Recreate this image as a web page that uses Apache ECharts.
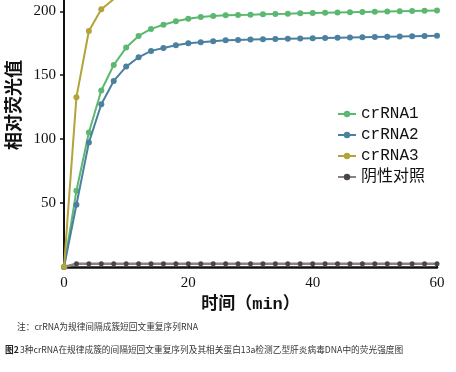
<!DOCTYPE html>
<html><head><meta charset="utf-8">
<script src="https://cdn.jsdelivr.net/npm/echarts@6/dist/echarts.min.js"></script>
<style>html,body{margin:0;padding:0;background:#fff}#c{width:456px;height:372px}</style>
</head><body><div id="c"></div>
<script>
const times = [0,2,4,6,8,10,12,14,16,18,20,22,24,26,28,30,32,34,36,38,40,42,44,46,48,50,52,54,56,58,60];
const crRNA1 = [0,59.6,105.2,138,158,171.6,180.7,186.2,189.5,192.2,194.2,195.5,196.3,196.9,197.1,197.3,197.6,197.9,198.1,198.4,198.6,198.8,199.0,199.2,199.4,199.6,199.8,200.0,200.2,200.4,200.5];
const crRNA2 = [0,48.7,97.3,127.3,145.5,156.7,164,169,171.3,173.4,175,175.8,176.6,177.3,177.6,177.9,178.1,178.3,178.5,178.7,178.9,179.1,179.3,179.5,179.7,179.9,180.1,180.3,180.5,180.7,180.9];
const crRNA3 = [0,132.8,184.6,201.6,209.5,214,217,219,220.5,221.5,222.2,222.8,223.2,223.5,223.8,224,224.2,224.4,224.6,224.8,225,225.1,225.2,225.3,225.4,225.5,225.6,225.7,225.8,225.9,226];
const negCtrl = [0,2.5,2.5,2.5,2.5,2.5,2.5,2.5,2.5,2.5,2.5,2.5,2.5,2.5,2.5,2.5,2.5,2.5,2.5,2.5,2.5,2.5,2.5,2.5,2.5,2.5,2.5,2.5,2.5,2.5,2.5];
const seriesNames = ['crRNA1','crRNA2','crRNA3','阴性对照'];
const yTicks = [50,100,150,200];
const xTicks = [0,20,40,60];
const xName = '时间（min）';
const yName = '相对荧光值';
const note = '注：crRNA为规律间隔成簇短回文重复序列RNA';
const captionLabel = '图2';
const caption = '3种crRNA在规律成簇的间隔短回文重复序列及其相关蛋白13a检测乙型肝炎病毒DNA中的荧光强度图';

const colors = ['#5cb870','#4c809f','#b3a338','#8a8282'];
const symColors = ['#5cb870','#4c809f','#b3a338','#4a4646'];
const allData = [crRNA1, crRNA2, crRNA3, negCtrl];

const chart = echarts.init(document.getElementById('c'));
const serifF = '"Liberation Serif", "DejaVu Serif", serif';
const monoF = '"Liberation Mono", "Noto Sans CJK SC", monospace';
chart.setOption({
  animation: false,
  grid: {left: 64, right: 19, top: 0, bottom: 105},
  xAxis: {
    type: 'value', min: 0, max: 60, interval: 20,
    name: xName, nameLocation: 'middle', nameGap: 26,
    nameTextStyle: {fontFamily: monoF, fontSize: 17, fontWeight: 'bold', color: '#111'},
    axisLine: {lineStyle: {color: '#111', width: 2.5}},
    axisTick: {inside: true, length: 3, lineStyle: {color: '#111', width: 2}},
    axisLabel: {fontFamily: serifF, fontSize: 15, color: '#111', margin: 9,
      formatter: v => xTicks.includes(v) ? String(v) : ''},
    splitLine: {show: false}
  },
  yAxis: {
    type: 'value', min: 0, max: 208.8, interval: 50,
    axisLine: {show: true, lineStyle: {color: '#111', width: 2}},
    axisTick: {show: true, length: 4, lineStyle: {color: '#111', width: 1.5}},
    axisLabel: {fontFamily: serifF, fontSize: 15, color: '#111', margin: 8, showMinLabel: false, showMaxLabel: false,
      formatter: v => yTicks.includes(v) ? String(v) : ''},
    splitLine: {show: false}
  },
  legend: {
    orient: 'vertical', left: 337, top: 106, padding: 0, itemWidth: 18, itemHeight: 8, itemGap: 5,
    textStyle: {fontFamily: monoF, fontSize: 16, lineHeight: 16, color: '#111'},
    data: seriesNames
  },
  series: seriesNames.map((n, i) => ({
    name: n, type: 'line', clip: true,
    data: times.map((t, j) => [t, allData[i][j]]),
    symbol: 'circle', symbolSize: i === 3 ? 5 : 6,
    lineStyle: {color: colors[i], width: i === 3 ? 2.5 : 2},
    itemStyle: {color: symColors[i]},
    z: i === 3 ? 1 : 2 + i
  })),
  graphic: [
    {type: 'text', x: 13, y: 105, rotation: Math.PI/2,
     style: {text: yName, font: 'bold 18px "Noto Sans CJK SC"', fill: '#111', textAlign: 'center', textVerticalAlign: 'middle'}},
    {type: 'text', x: 17, y: 322, style: {text: note, font: '8.7px "Noto Sans CJK SC"', fill: '#333'}},
    {type: 'text', x: 5, y: 345, style: {text: captionLabel, font: 'bold 8.7px "Noto Sans CJK SC"', fill: '#222'}},
    {type: 'text', x: 20, y: 345, style: {text: caption, font: '8.7px "Noto Sans CJK SC"', fill: '#333'}}
  ]
});
</script></body></html>
